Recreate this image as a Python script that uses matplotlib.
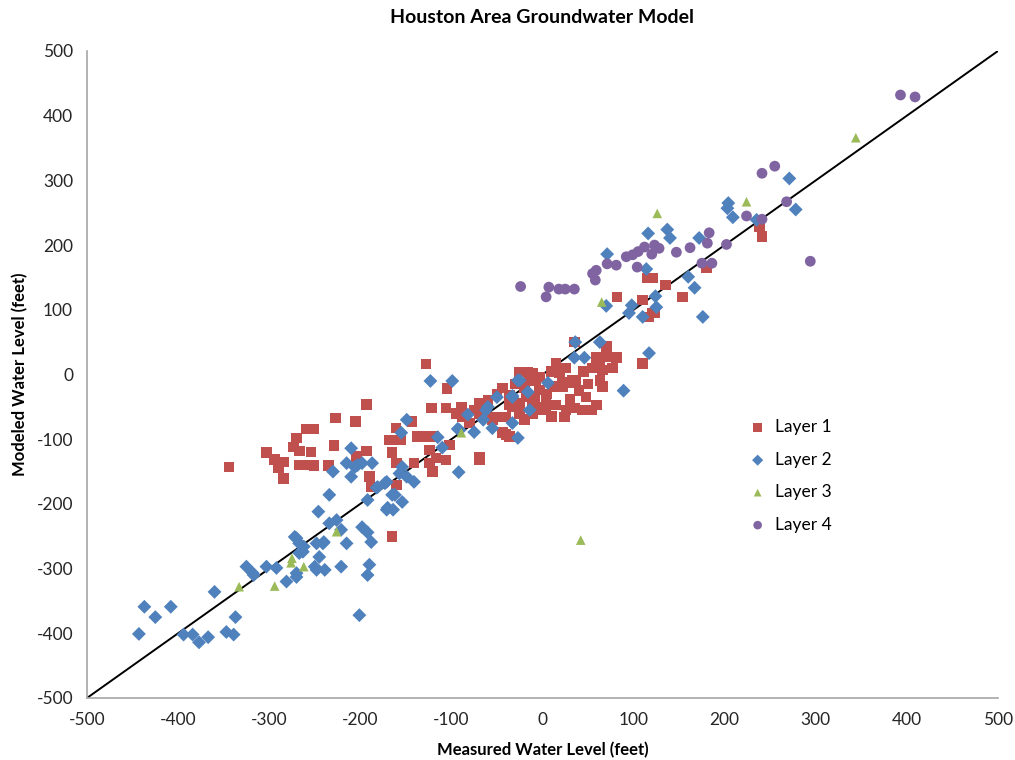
import numpy as np
import matplotlib
matplotlib.use("Agg")
from matplotlib import pyplot as plt

# measured vs modeled water levels (feet)
layer1 = [
    (-344, -143), (-303, -121), (-294, -131), (-284, -135), (-290, -144), (-284, -161),
    (-259, -84), (-251, -84), (-270, -98), (-273, -112), (-267, -118), (-254, -120),
    (-267, -140), (-259, -140), (-251, -141), (-235, -141), (-227, -67), (-229, -110),
    (-205, -73), (-193, -46), (-193, -118), (-204, -127), (-190, -158), (-188, -174),
    (-160, -171), (-165, -121), (-161, -83), (-143, -73), (-156, -101), (-137, -96),
    (-128, -96), (-119, -96), (-124, -117), (-117, -129), (-106, -132), (-124, -137),
    (-121, -150), (-141, -137), (-102, -109), (-69, -131), (-128, 16), (-105, -22),
    (-122, -52), (-106, -52), (-89, -50), (-69, -44), (-165, -250), (-160, -137),
    (-168, -101), (-44, -21), (-40, -93), (-36, -32), (-33, -50), (-18, 4), (-11, 2),
    (-3, -24), (0, -50), (-55, -66), (-47, -66), (-25, -55), (-11, -60), (35, 50),
    (70, 43), (81, 26), (110, 17), (59, 26), (55, 10), (66, 7), (77, 10), (66, -19),
    (63, -9), (48, -35), (59, -47), (54, -55), (30, -39), (35, -52), (24, -66),
    (26, -12), (37, -12), (15, 18), (19, 2), (22, -19), (-16, 4), (-7, -9), (11, -19),
    (4, -39), (15, -47), (-3, -55), (-25, -60), (-18, -35), (-36, -47), (121, 95),
    (114, 89), (-25, 4), (-14, -9), (-3, -4), (26, 10), (33, -9), (22, -14), (63, 12),
    (70, 27), (44, -55), (26, -55), (4, -55), (-11, -50), (-25, -44), (-40, -66),
    (-55, -70), (-69, -60), (-88, -66), (-44, -90), (-36, -96), (-69, -128), (-60, -40),
    (-50, -30), (-30, -15), (-20, -20), (5, -30), (10, 5), (40, -25), (45, 5), (50, -15),
    (-75, -55), (-80, -75), (-95, -60), (-20, -70), (10, -65), (-8, -35),
    (115, 149), (121, 149), (135, 138), (82, 120), (110, 115), (154, 120), (180, 165),
    (238, 229), (241, 213), (117, 89), (123, 95),
]
layer2 = [
    (-443, -401), (-437, -359), (-425, -375), (-408, -359), (-394, -402), (-384, -402),
    (-377, -414), (-367, -406), (-360, -336), (-347, -398), (-339, -402), (-337, -375),
    (-325, -297), (-317, -310), (-303, -297), (-292, -299), (-281, -320), (-270, -313),
    (-270, -253), (-262, -266), (-267, -276), (-248, -261), (-240, -259), (-245, -282),
    (-248, -302), (-239, -302), (-246, -212), (-234, -230), (-226, -225), (-210, -114),
    (-215, -137), (-206, -143), (-198, -137), (-187, -137), (-230, -150), (-210, -158),
    (-234, -186), (-173, -168), (-165, -186), (-182, -175), (-192, -194), (-171, -209),
    (-164, -209), (-221, -240), (-198, -236), (-192, -244), (-188, -259), (-215, -261),
    (-272, -251), (-267, -261), (-241, -261), (-263, -274), (-250, -297), (-221, -297),
    (-190, -294), (-192, -310), (-270, -307), (-318, -307), (-201, -372), (-123, -10),
    (-99, -10), (-149, -70), (-155, -90), (-115, -97), (-110, -113), (-92, -151),
    (-203, -140), (-154, -143), (-157, -153), (-149, -158), (-141, -166), (-171, -166),
    (-181, -174), (-162, -186), (-154, -197), (-170, -206), (-93, -84), (-82, -62),
    (-75, -89), (-60, -50), (-55, -83), (-50, -35), (-33, -35), (-27, -9), (-16, -27),
    (-14, -55), (-33, -75), (-27, -98), (36, 50), (63, 50), (46, 26), (35, 26), (6, -13),
    (-25, -9), (-33, -33), (89, -25), (117, 33), (95, 95), (110, 89), (71, 186),
    (116, 218), (137, 224), (140, 211), (172, 211), (114, 163), (160, 151), (167, 134),
    (124, 121), (98, 107), (125, 104), (176, 89), (70, 106), (204, 265), (203, 257),
    (209, 243), (235, 239), (271, 303), (278, 255), (-65, -70), (-62, -55), (-91, -86),
]
layer3 = [
    (-333, -328), (-294, -327), (-276, -291), (-275, -284), (-262, -297), (-226, -243),
    (-89, -90), (42, -256), (65, 112), (126, 249), (224, 267), (344, 366),
]
layer4 = [
    (-24, 136), (4, 120), (7, 135), (18, 132), (25, 132), (35, 132), (55, 156), (59, 161),
    (58, 146), (71, 171), (81, 169), (92, 182), (99, 185), (105, 190), (112, 197),
    (123, 200), (128, 195), (120, 186), (147, 189), (104, 166), (162, 196), (175, 172),
    (186, 172), (181, 203), (183, 219), (202, 201), (224, 245), (241, 311), (255, 322),
    (268, 267), (241, 240), (294, 175), (393, 432), (409, 429),
]

series = [
    ("Layer 1", layer1, "s", "#C0504D", 58),
    ("Layer 2", layer2, "D", "#4F81BD", 50),
    ("Layer 3", layer3, "^", "#9BBB59", 48),
    ("Layer 4", layer4, "o", "#8064A2", 60),
]

plt.rcParams["font.family"] = ["Lato", "DejaVu Sans"]
plt.rcParams["axes.unicode_minus"] = False

fig = plt.figure(figsize=(10.15, 7.6), dpi=100)
ax = fig.add_axes([0.0857, 0.0816, 0.8975, 0.8513])

for name, pts, mk, col, size in series:
    arr = np.array(pts)
    ax.scatter(arr[:, 0], arr[:, 1], marker=mk, s=size, color=col,
               edgecolors="none", label=name, zorder=3)

ax.plot([-500, 500], [-500, 500], color="black", lw=1.4, zorder=2)

ax.set_xlim(-500, 500)
ax.set_ylim(-500, 500)
ax.set_xticks(np.arange(-500, 501, 100))
ax.set_yticks(np.arange(-500, 501, 100))
ax.tick_params(length=0, labelsize=12.5, labelcolor="#262626", pad=10)
for s in ["top", "right"]:
    ax.spines[s].set_visible(False)
for s in ["left", "bottom"]:
    ax.spines[s].set_color("#A6A6A6")
    ax.spines[s].set_linewidth(1.2)

ax.set_title("Houston Area Groundwater Model", fontsize=14, fontweight="bold", pad=20)
ax.set_xlabel("Measured Water Level (feet)", fontsize=12, fontweight="bold", labelpad=10)
ax.set_ylabel("Modeled Water Level (feet)", fontsize=12, fontweight="bold", labelpad=6)

leg = ax.legend(loc="upper left", bbox_to_anchor=(0.70, 0.455), frameon=False,
                fontsize=12.5, labelspacing=0.95, handletextpad=0.0,
                markerscale=0.8, scatterpoints=1)

fig.savefig("out.png", dpi=100)
